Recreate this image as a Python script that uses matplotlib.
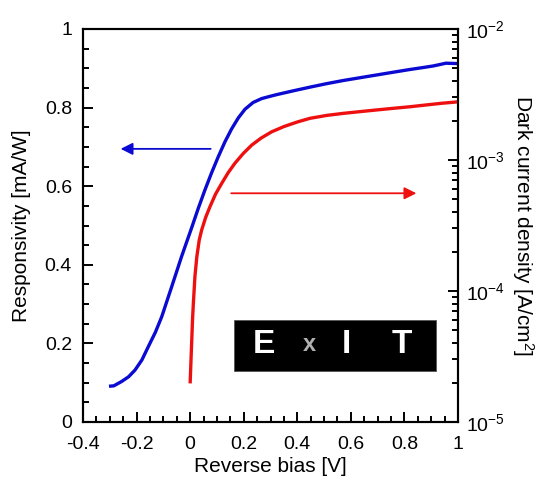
import math
import matplotlib
matplotlib.use("Agg")
import matplotlib.pyplot as plt
from matplotlib.ticker import MultipleLocator, LogLocator, FixedLocator, NullFormatter, FuncFormatter
from matplotlib.patches import Rectangle

plt.rcParams['font.family'] = ['Liberation Sans', 'DejaVu Sans']
plt.rcParams['mathtext.default'] = 'regular'

# responsivity (left axis)
bias_r = [-0.303, -0.285, -0.256, -0.230, -0.206, -0.180, -0.156, -0.130, -0.106, -0.069,
          -0.032, 0.006, 0.030, 0.055, 0.080, 0.105, 0.130, 0.155, 0.180, 0.205, 0.235,
          0.267, 0.300, 0.323, 0.387, 0.447, 0.510, 0.572, 0.634, 0.696, 0.758, 0.821,
          0.870, 0.908, 0.935, 0.955, 1.0]
resp = [0.091, 0.092, 0.103, 0.115, 0.132, 0.158, 0.192, 0.228, 0.268, 0.344,
        0.421, 0.495, 0.543, 0.590, 0.634, 0.675, 0.713, 0.746, 0.774, 0.796, 0.813,
        0.823, 0.829, 0.833, 0.843, 0.852, 0.861, 0.869, 0.876, 0.883, 0.890, 0.897,
        0.902, 0.906, 0.910, 0.913, 0.912]

# dark current density (right axis, log)
bias_d = [0.0, 0.003, 0.006, 0.009, 0.012, 0.018, 0.025, 0.034, 0.043, 0.058, 0.074,
          0.095, 0.118, 0.142, 0.167, 0.198, 0.230, 0.265, 0.304, 0.350, 0.400, 0.447,
          0.510, 0.572, 0.634, 0.696, 0.758, 0.821, 0.880, 0.939, 1.0]
dark = [1.97e-5, 2.9e-5, 4.2e-5, 6.1e-5, 8.05e-5, 1.30e-4, 1.83e-4, 2.45e-4, 2.92e-4,
        3.65e-4, 4.40e-4, 5.50e-4, 6.64e-4, 8.00e-4, 9.44e-4, 1.12e-3, 1.30e-3, 1.47e-3,
        1.64e-3, 1.80e-3, 1.95e-3, 2.08e-3, 2.19e-3, 2.27e-3, 2.34e-3, 2.41e-3, 2.48e-3,
        2.55e-3, 2.63e-3, 2.71e-3, 2.78e-3]

inset_letters = ['E', 'x', 'I', 'T']

fig = plt.figure(figsize=(5.42, 4.78), dpi=100)
ax = fig.add_axes([83/542, 1 - 422/478, 375/542, 393/478])
ax2 = ax.twinx()

ax.plot(bias_r, resp, color='#0a0ad2', lw=2.4, solid_capstyle='butt')
ax2.plot(bias_d, dark, color='#ee1010', lw=2.4, solid_capstyle='butt')

ax.set_xlim(-0.4, 1)
ax.set_ylim(0, 1)
ax2.set_yscale('log')
ax2.set_ylim(1e-5, 1e-2)

ax.xaxis.set_major_locator(MultipleLocator(0.2))
ax.xaxis.set_minor_locator(MultipleLocator(0.05))
ax.yaxis.set_major_locator(MultipleLocator(0.2))
ax.yaxis.set_minor_locator(MultipleLocator(0.05))
ax.xaxis.set_major_formatter(FuncFormatter(lambda v, p: '%g' % round(v, 2)))
ax.yaxis.set_major_formatter(FuncFormatter(lambda v, p: '%g' % round(v, 2)))

ax2.yaxis.set_major_locator(FixedLocator([1e-5, 1e-4, 1e-3, 1e-2]))
ax2.yaxis.set_minor_locator(LogLocator(base=10, subs=range(2, 10)))
ax2.yaxis.set_minor_formatter(NullFormatter())
ax2.yaxis.set_major_formatter(FuncFormatter(lambda v, p: '$10^{%d}$' % round(math.log10(v))))

for a in (ax, ax2):
    for s in a.spines.values():
        s.set_linewidth(1.5)
ax.tick_params(which='both', direction='in', width=1.4, labelsize=14, top=False, right=False)
ax.tick_params(which='major', length=7)
ax.tick_params(which='minor', length=4)
ax.tick_params(axis='x', which='major', pad=10)
ax.tick_params(axis='y', which='major', pad=8)
ax2.tick_params(which='both', direction='in', width=1.4, labelsize=14)
ax2.tick_params(which='major', length=7, pad=6)
ax2.tick_params(which='minor', length=4)

ax.set_xlabel('Reverse bias [V]', fontsize=15, labelpad=3)
ax.set_ylabel('Responsivity [mA/W]', fontsize=15, labelpad=10)
ax2.set_ylabel('Dark current density [A/cm$^2$]', fontsize=15, rotation=270, labelpad=22)

# arrows
ax.annotate('', xy=(-0.27, 0.695), xytext=(0.087, 0.695),
            arrowprops=dict(arrowstyle='-|>', color='#0a0ad2', lw=1.3, mutation_scale=18))
ax.annotate('', xy=(0.855, 0.582), xytext=(0.143, 0.582),
            arrowprops=dict(arrowstyle='-|>', color='#ee1010', lw=1.3, mutation_scale=18))

# inset logo
ax.add_patch(Rectangle((0.163, 0.130), 0.756, 0.130, facecolor='black', edgecolor='#555555',
                       lw=0.6, zorder=5))
letter_x = [0.277, 0.445, 0.585, 0.789]
letter_c = ['white', '#b0b0b0', 'white', 'white']
letter_s = [24, 17, 24, 24]
for lx, lt, lc, ls in zip(letter_x, inset_letters, letter_c, letter_s):
    ax.text(lx, 0.198, lt, color=lc, fontsize=ls, fontweight='bold', ha='center', va='center',
            zorder=6)

fig.savefig('out.png', dpi=100)
